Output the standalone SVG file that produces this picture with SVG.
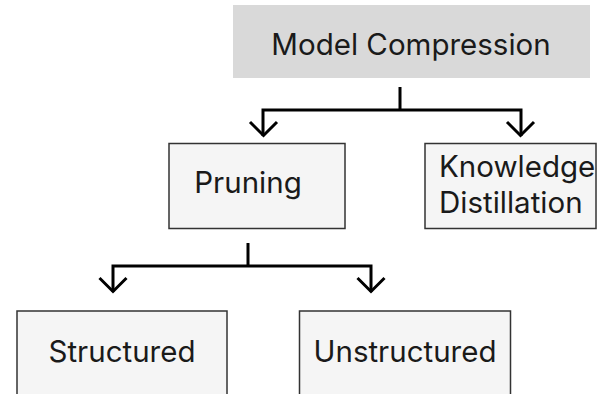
<svg xmlns="http://www.w3.org/2000/svg" width="603" height="394" viewBox="0 0 603 394">
<style>
.box{fill:#f5f5f5;stroke:#333;stroke-width:1.5}
.t{font-family:Inter,"Liberation Sans",sans-serif;fill:#1a1a1a;font-size:29.5px}
.c{fill:none;stroke:#000;stroke-width:3}
</style>
<rect width="603" height="394" fill="#fff"/>
<g id="root">
<rect x="233" y="5" width="357" height="73" fill="#d9d9d9"/>
<text class="t" x="411" y="55" text-anchor="middle">Model Compression</text>
</g>
<g id="pruning">
<rect class="box" x="169" y="143.5" width="176" height="85"/>
<text class="t" x="248" y="193" text-anchor="middle">Pruning</text>
</g>
<g id="kd">
<rect class="box" x="425" y="143.5" width="171" height="85"/>
<text class="t" x="439" y="177">Knowledge</text>
<text class="t" x="439" y="213">Distillation</text>
</g>
<g id="structured">
<rect class="box" x="17" y="311" width="210" height="100"/>
<text class="t" x="122" y="362" text-anchor="middle">Structured</text>
</g>
<g id="unstructured">
<rect class="box" x="299.5" y="311" width="211" height="100"/>
<text class="t" x="405" y="362" text-anchor="middle">Unstructured</text>
</g>
<g id="connectors">
<path class="c" d="M400 87V110M263 136V110H521V136"/>
<path class="c" d="M250 122L263.5 135.5L277 122M507 122L520.5 135.5L534 122"/>
<path class="c" d="M248 243V266M113 292V266H371V292"/>
<path class="c" d="M99.5 278L113 291.5L126.5 278M357.5 278L371 291.5L384.5 278"/>
</g>
</svg>
